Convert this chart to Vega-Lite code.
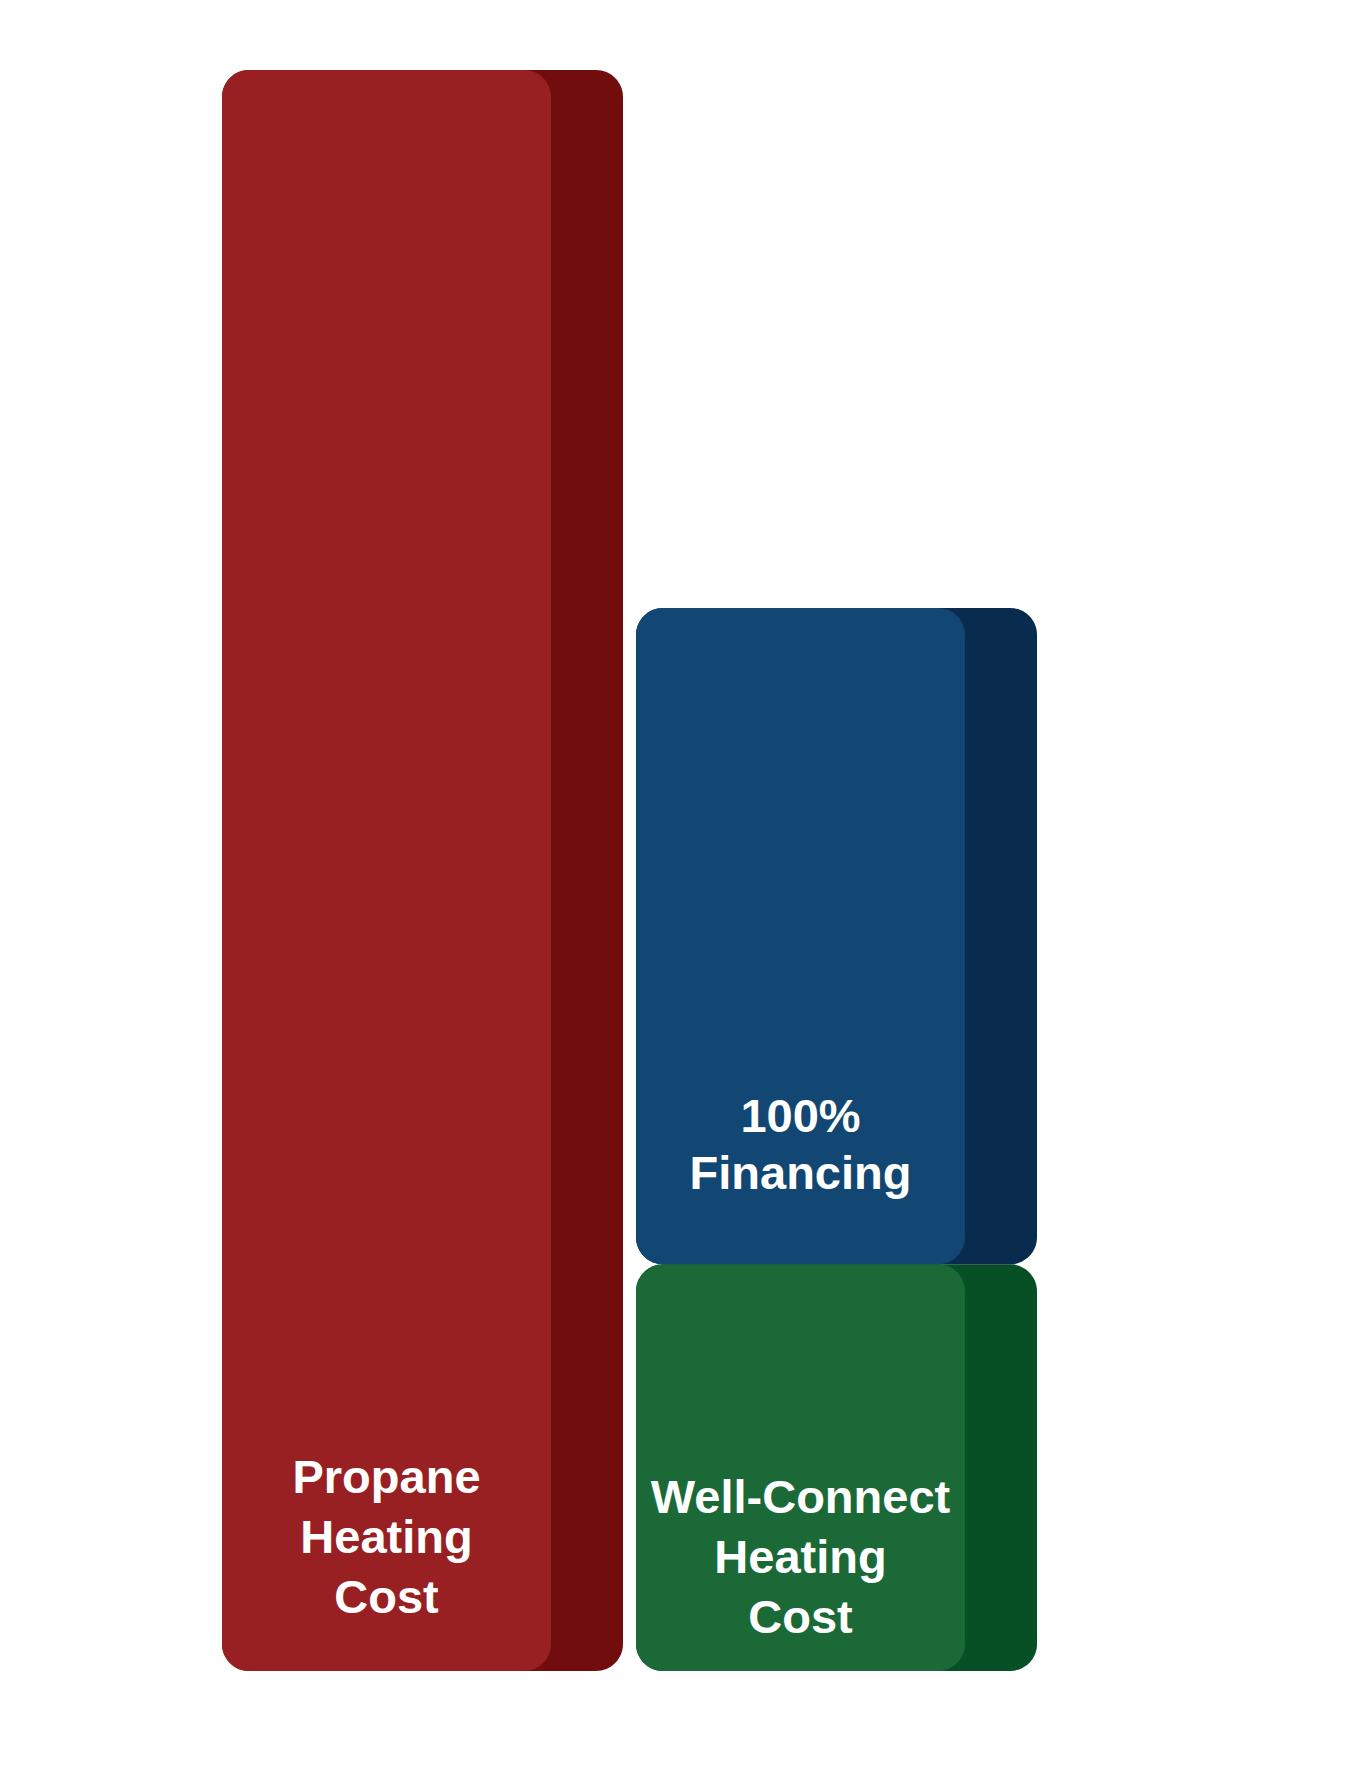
{
  "$schema": "https://vega.github.io/schema/vega-lite/v6.json",
  "width": 815,
  "height": 1601,
  "autosize": {"type": "none"},
  "padding": {"left": 222, "top": 70, "right": 320, "bottom": 111},
  "background": "white",
  "config": {"view": {"stroke": null}},
  "data": {
    "values": [
      {"group": "Propane", "segment": "Propane Heating Cost", "label": "Propane\nHeating\nCost", "start": 0, "end": 100},
      {"group": "Well-Connect", "segment": "Well-Connect Heating Cost", "label": "Well-Connect\nHeating\nCost", "start": 0, "end": 25.4},
      {"group": "Well-Connect", "segment": "100% Financing", "label": "100%\nFinancing", "start": 25.4, "end": 66.4}
    ]
  },
  "encoding": {
    "x": {"field": "group", "type": "nominal", "axis": null, "sort": ["Propane", "Well-Connect"], "scale": {"paddingInner": 0.0314, "paddingOuter": 0}}
  },
  "layer": [
    {
      "mark": {"type": "bar", "cornerRadius": 27},
      "encoding": {
        "y": {"field": "end", "type": "quantitative", "axis": null, "scale": {"domain": [0, 100], "nice": false}},
        "y2": {"field": "start"},
        "color": {"field": "segment", "type": "nominal", "legend": null, "scale": {"domain": ["Propane Heating Cost", "Well-Connect Heating Cost", "100% Financing"], "range": ["#710D0D", "#074F25", "#082B4E"]}}
      }
    },
    {
      "mark": {"type": "bar", "cornerRadius": 27, "width": {"band": 0.8204}, "xOffset": -36},
      "encoding": {
        "y": {"field": "end", "type": "quantitative", "axis": null, "scale": {"domain": [0, 100], "nice": false}},
        "y2": {"field": "start"},
        "color": {"field": "segment", "type": "nominal", "legend": null, "scale": {"domain": ["Propane Heating Cost", "Well-Connect Heating Cost", "100% Financing"], "range": ["#982022", "#1B6937", "#124673"]}}
      }
    },
    {
      "transform": [{"filter": "datum.segment == 'Propane Heating Cost'"}],
      "mark": {"type": "text", "lineBreak": "\n", "font": "Liberation Sans", "fontWeight": "bold", "fontSize": 47, "color": "white", "align": "center", "baseline": "alphabetic", "lineHeight": 60, "dx": -36, "dy": -178},
      "encoding": {
        "y": {"field": "start", "type": "quantitative", "axis": null, "scale": {"domain": [0, 100], "nice": false}},
        "text": {"field": "label"}
      }
    },
    {
      "transform": [{"filter": "datum.segment == 'Well-Connect Heating Cost'"}],
      "mark": {"type": "text", "lineBreak": "\n", "font": "Liberation Sans", "fontWeight": "bold", "fontSize": 47, "color": "white", "align": "center", "baseline": "alphabetic", "lineHeight": 60, "dx": -36, "dy": -158},
      "encoding": {
        "y": {"field": "start", "type": "quantitative", "axis": null, "scale": {"domain": [0, 100], "nice": false}},
        "text": {"field": "label"}
      }
    },
    {
      "transform": [{"filter": "datum.segment == '100% Financing'"}],
      "mark": {"type": "text", "lineBreak": "\n", "font": "Liberation Sans", "fontWeight": "bold", "fontSize": 47, "color": "white", "align": "center", "baseline": "alphabetic", "lineHeight": 57, "dx": -36, "dy": -132},
      "encoding": {
        "y": {"field": "start", "type": "quantitative", "axis": null, "scale": {"domain": [0, 100], "nice": false}},
        "text": {"field": "label"}
      }
    }
  ],
  "resolve": {"scale": {"color": "independent"}}
}
